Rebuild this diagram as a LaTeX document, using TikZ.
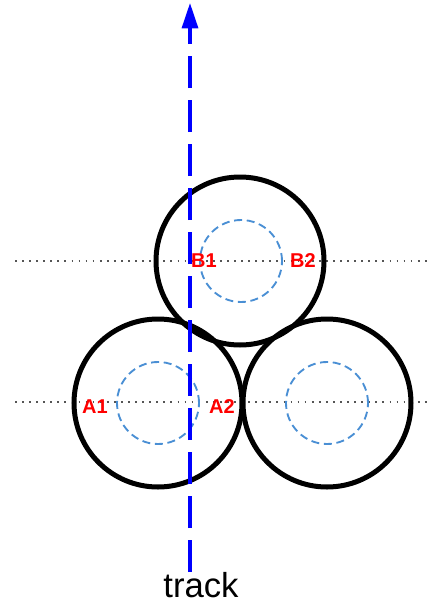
\documentclass[tikz,border=0pt]{standalone}
\usepackage{fontspec}
\setmainfont{Liberation Sans}
\usetikzlibrary{arrows.meta}
\definecolor{innerblue}{HTML}{4A8FD4}
\definecolor{dotgray}{HTML}{555555}
\begin{document}
\begin{tikzpicture}[x=0.75pt,y=-0.75pt,
  bigc/.style={circle,draw=black,line width=3.75pt,minimum size=126pt,inner sep=0pt},
  innerc/.style={circle,draw=innerblue,line width=1.4pt,dash pattern=on 6pt off 3.5pt,minimum size=61.5pt,inner sep=0pt},
  guide/.style={draw=dotgray,line width=1.3pt,dash pattern=on 1.3pt off 4pt},
  lbl/.style={text=red,font=\bfseries\fontsize{15}{15}\selectfont,inner sep=0pt},
  trk/.style={draw=blue,line width=2.4pt,dash pattern=on 24pt off 9pt,-{Triangle[length=19pt,width=12pt]}}]
\useasboundingbox (0,0) rectangle (433,604);
% guide lines
\coordinate (gB1) at (15,261);
\coordinate (gB2) at (430,261);
\coordinate (gA1) at (15,402);
\coordinate (gA2) at (430,402);
\draw[guide] (gB1) -- (gB2);
\draw[guide] (gA1) -- (gA2);
% inner dashed circles
\node[innerc] (iB) at (241,261) {};
\node[innerc] (iA) at (158,403) {};
\node[innerc] (iC) at (327,403) {};
% big circles
\node[bigc] (B) at (240,261) {};
\node[bigc] (A) at (158,403) {};
\node[bigc] (C) at (327,403) {};
% track
\node[font=\fontsize{26}{26}\selectfont,inner sep=0pt,anchor=base] (track) at (201,597) {track};
\coordinate (tTop) at (190,3);
\coordinate (tBot) at (190,572);
\draw[trk] (tBot) -- (tTop);
% labels
\node[lbl] (b1) at (204,261) {B1};
\node[lbl] (b2) at (303,261) {B2};
\node[lbl] (a1) at (95,407) {A1};
\node[lbl] (a2) at (222,407) {A2};
\end{tikzpicture}
\end{document}
